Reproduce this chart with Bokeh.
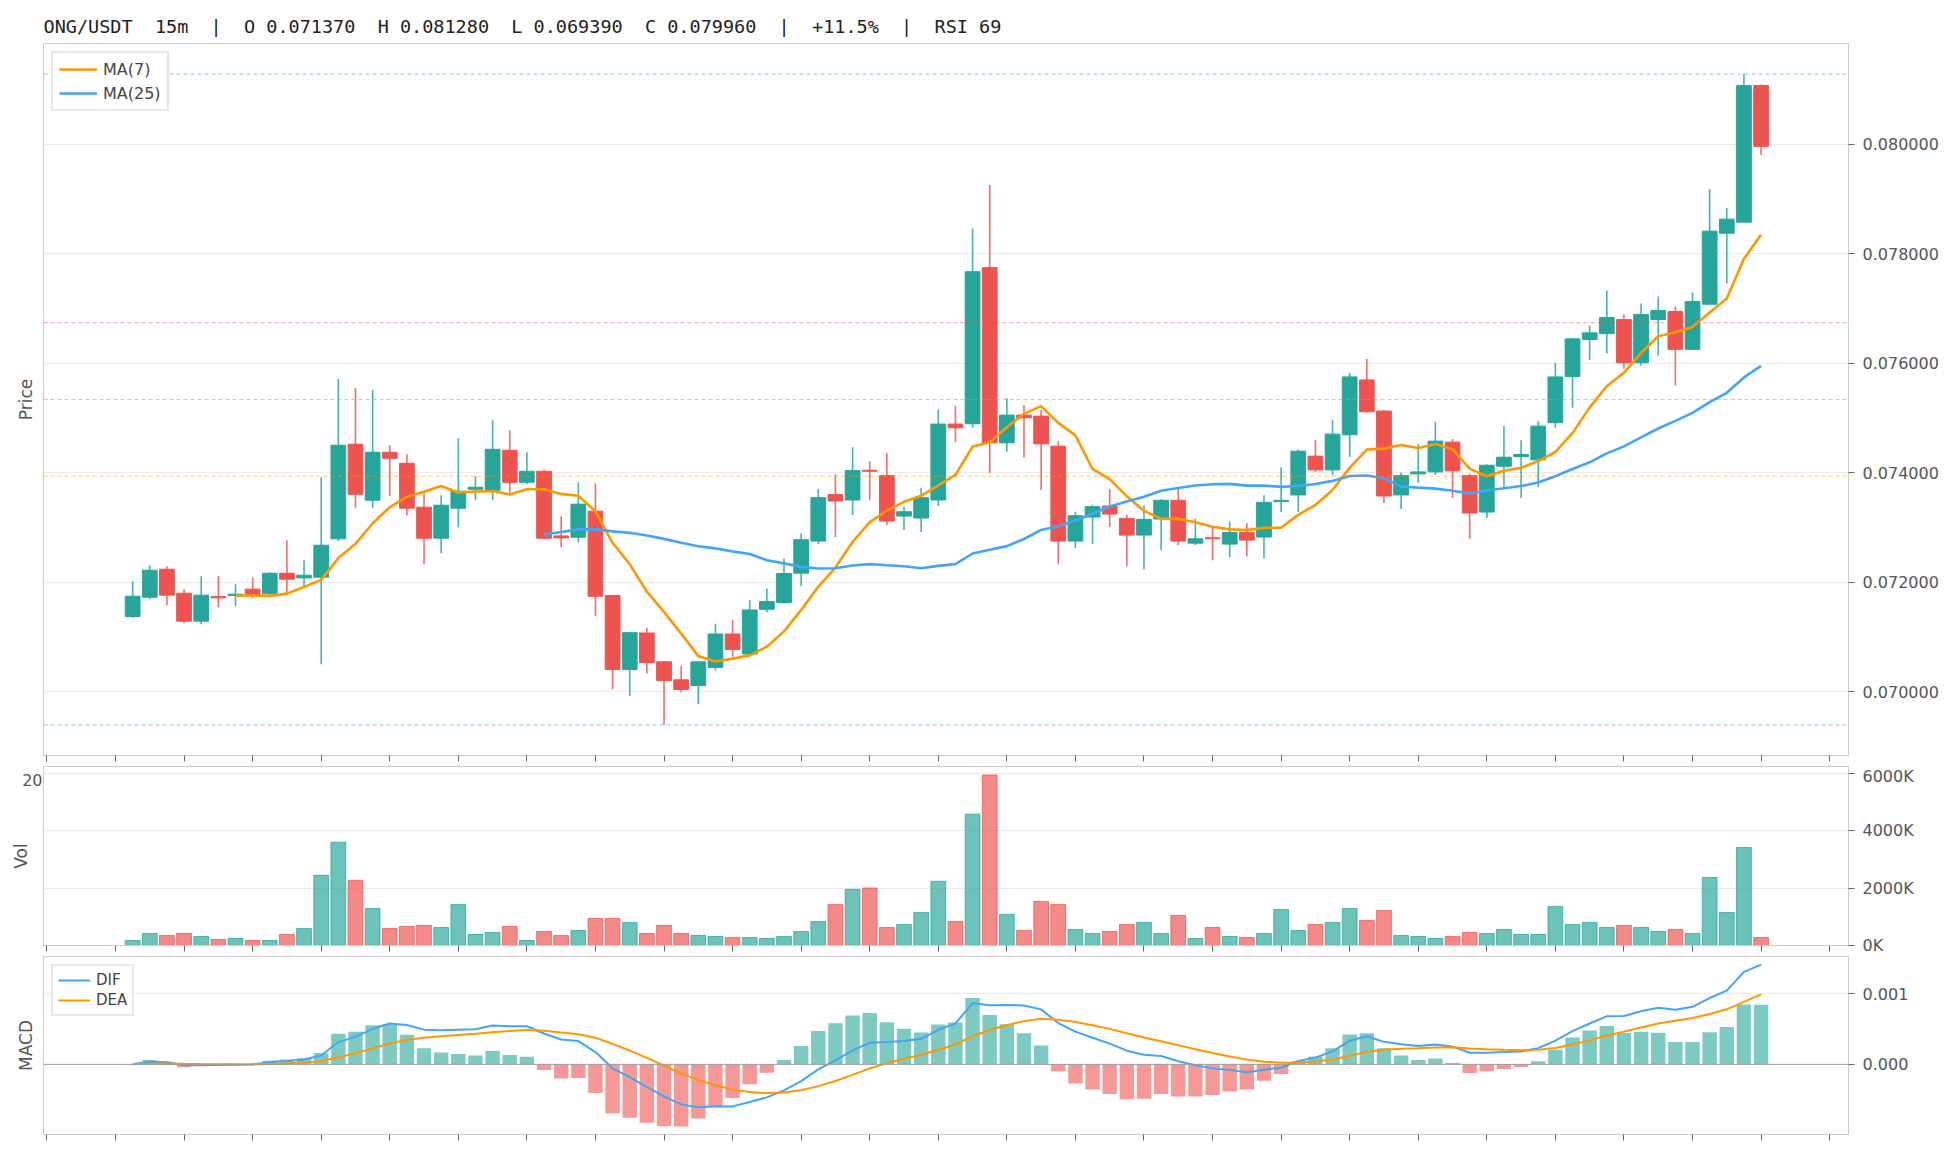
import numpy as np
import pandas as pd
from bokeh.plotting import figure
from bokeh.models import (ColumnDataSource, LinearAxis, FixedTicker,
                          PrintfTickFormatter, Span, Range1d)
from bokeh.layouts import column
from bokeh.embed import file_html
from bokeh.resources import INLINE

# ---------------- data ----------------
symbol = "ONG/USDT"
interval = "15m"
change_text = "+11.5%"
rsi_value = 69

opens = [0.07137, 0.071723, 0.072234, 0.071796, 0.071285, 0.071735, 0.071753, 0.071869, 0.071784, 0.072161,
         0.072076, 0.072088, 0.072789, 0.074517, 0.073495, 0.074371, 0.07417, 0.073367, 0.072801, 0.073349,
         0.073696, 0.073677, 0.074408, 0.073823, 0.074024, 0.072843, 0.072819, 0.073294, 0.071753, 0.070403,
         0.071069, 0.070543, 0.070214, 0.07011, 0.07044, 0.071051, 0.070684, 0.071502, 0.071624, 0.072162,
         0.072748, 0.073597, 0.073499, 0.074043, 0.073945, 0.073206, 0.073169, 0.073499, 0.074886, 0.074892,
         0.077744, 0.074544, 0.07505, 0.075032, 0.074482, 0.072748, 0.073188, 0.073389, 0.073163, 0.072858,
         0.073151, 0.073493, 0.072711, 0.072809, 0.072693, 0.072907, 0.072821, 0.073469, 0.073591, 0.074299,
         0.074049, 0.07469, 0.075692, 0.075124, 0.073591, 0.073976, 0.074012, 0.074556, 0.073945, 0.073279,
         0.074116, 0.074293, 0.074232, 0.07491, 0.075753, 0.076431, 0.076538, 0.076795, 0.076006, 0.076795,
         0.076942, 0.076251, 0.077076, 0.078373, 0.078575, 0.08107]
highs = [0.072015, 0.072308, 0.072289, 0.071869, 0.072107, 0.072107, 0.071961, 0.072089, 0.07218, 0.072764,
         0.072399, 0.073915, 0.07571, 0.075545, 0.075508, 0.074499, 0.074335, 0.073623, 0.073586, 0.074627,
         0.073933, 0.074956, 0.074773, 0.074371, 0.074061, 0.073203, 0.073823, 0.073805, 0.071765, 0.071093,
         0.071166, 0.070556, 0.07047, 0.070543, 0.07124, 0.071313, 0.071673, 0.071881, 0.072424, 0.072889,
         0.073701, 0.073969, 0.074464, 0.074208, 0.074354, 0.073377, 0.073725, 0.075154, 0.075215, 0.078458,
         0.079256, 0.075356, 0.075234, 0.075142, 0.074574, 0.073285, 0.073414, 0.073701, 0.07323, 0.073402,
         0.073511, 0.073719, 0.073163, 0.072986, 0.073108, 0.073072, 0.073585, 0.074098, 0.074421, 0.074592,
         0.074959, 0.07582, 0.076076, 0.075142, 0.074, 0.074519, 0.074922, 0.074611, 0.073982, 0.074153,
         0.074849, 0.074592, 0.07494, 0.076003, 0.076461, 0.076681, 0.077327, 0.076887, 0.077089, 0.077217,
         0.077034, 0.07729, 0.07918, 0.078832, 0.08128, 0.081088]
lows = [0.07135, 0.071687, 0.071577, 0.071248, 0.07123, 0.07154, 0.071559, 0.071705, 0.07176, 0.071796,
        0.071924, 0.0705, 0.072746, 0.073349, 0.073349, 0.073568, 0.073221, 0.072326, 0.072527, 0.073002,
        0.073495, 0.073495, 0.073623, 0.073787, 0.072783, 0.072636, 0.072728, 0.071376, 0.070037, 0.069914,
        0.07033, 0.06939, 0.069982, 0.069768, 0.070385, 0.070635, 0.070666, 0.071447, 0.071606, 0.071924,
        0.072693, 0.072821, 0.073224, 0.073499, 0.073041, 0.07295, 0.072913, 0.073389, 0.074562, 0.074818,
        0.073994, 0.074379, 0.074269, 0.073682, 0.072327, 0.07262, 0.072693, 0.073005, 0.07229, 0.072235,
        0.072583, 0.072675, 0.072675, 0.0724, 0.072455, 0.072473, 0.072437, 0.073279, 0.073279, 0.074012,
        0.073957, 0.074287, 0.075093, 0.073444, 0.073334, 0.073811, 0.073957, 0.073536, 0.072785, 0.073169,
        0.073737, 0.073536, 0.073737, 0.074818, 0.075185, 0.07606, 0.076177, 0.075896, 0.075951, 0.076141,
        0.07559, 0.076251, 0.077076, 0.077456, 0.078575, 0.079804]
closes = [0.071741, 0.072216, 0.07176, 0.071285, 0.07176, 0.071711, 0.071778, 0.071772, 0.072161, 0.072052,
          0.072125, 0.072673, 0.074499, 0.073604, 0.074371, 0.074262, 0.073349, 0.072801, 0.073404, 0.073659,
          0.073732, 0.074426, 0.073823, 0.074024, 0.072801, 0.072807, 0.073422, 0.071741, 0.070403, 0.071075,
          0.070531, 0.070201, 0.070037, 0.070543, 0.071051, 0.070769, 0.07149, 0.071643, 0.072156, 0.072773,
          0.073542, 0.073481, 0.074037, 0.074024, 0.073114, 0.073285, 0.073542, 0.074886, 0.074818, 0.07767,
          0.074544, 0.07505, 0.075002, 0.074525, 0.072748, 0.073212, 0.073377, 0.073243, 0.072858, 0.073145,
          0.073493, 0.072748, 0.072791, 0.072791, 0.072907, 0.072766, 0.073456, 0.073493, 0.074391, 0.074049,
          0.074702, 0.075747, 0.075111, 0.073572, 0.073945, 0.074012, 0.074574, 0.074031, 0.073261, 0.074134,
          0.074281, 0.07433, 0.074849, 0.075747, 0.076443, 0.076553, 0.076832, 0.076006, 0.076887, 0.07696,
          0.076251, 0.077125, 0.07841, 0.07863, 0.08107, 0.07996]
volumes_k = [174, 419, 349, 419, 314, 209, 244, 174, 174, 384,
             593, 2442, 3594, 2268, 1291, 593, 663, 698, 628, 1430,
             384, 454, 663, 174, 488, 349, 523, 942, 942, 802,
             419, 698, 419, 349, 314, 279, 279, 244, 314, 488,
             837, 1430, 1954, 2000, 628, 733, 1151, 2233, 837, 4570,
             5931, 1082, 523, 1535, 1430, 558, 419, 488, 733, 802,
             419, 1047, 244, 628, 314, 279, 419, 1256, 523, 733,
             802, 1291, 872, 1221, 349, 314, 244, 314, 454, 419,
             558, 384, 384, 1361, 733, 802, 628, 698, 628, 488,
             560, 420, 2365, 1150, 3410, 280]
fib_ratios = [0.0, 0.382, 0.5, 0.618, 1.0]
fib_colors = ["#26a69a", "#ef5350", "#9e9e9e", "#ff9800", "#26a69a"]
price_ticks = [0.070, 0.072, 0.074, 0.076, 0.078, 0.080]
vol_ticks_k = [0, 2000, 4000, 6000]
macd_ticks = [0.0, 0.001]
stray_label = "20"

# ---------------- derived series ----------------
UP, DOWN = "#26a69a", "#ef5350"
n = len(closes)
idx = np.arange(n)
o = np.array(opens); h = np.array(highs); l = np.array(lows); c = np.array(closes)
up = c >= o
colors = [UP if u else DOWN for u in up]

cs = pd.Series(c)
ma7 = cs.rolling(7).mean().to_numpy()
ma25 = cs.rolling(25).mean().to_numpy()
ema12 = cs.ewm(span=12, adjust=False).mean()
ema26 = cs.ewm(span=26, adjust=False).mean()
dif = (ema12 - ema26)
dea = dif.ewm(span=9, adjust=False).mean()
hist = 2 * (dif - dea)
dif = dif.to_numpy(); dea = dea.to_numpy(); hist = hist.to_numpy()

src = ColumnDataSource(dict(x=idx, open=o, high=h, low=l, close=c,
                            top=np.maximum(o, c), bottom=np.minimum(o, c),
                            color=colors, vol=np.array(volumes_k, dtype=float)))

hi_p, lo_p = h.max(), l.min()
span_p = hi_p - lo_p

SP = "\u00a0\u00a0"
title_text = (f"{symbol}{SP}{interval}{SP}|{SP}O {opens[0]:.6f}{SP}H {hi_p:.6f}{SP}L {lo_p:.6f}{SP}"
              f"C {closes[-1]:.6f}{SP}|{SP}{change_text}{SP}|{SP}RSI {rsi_value}")

FONT = "DejaVu Sans"
TXT = "#555555"
FRAME = "#cccccc"
FW = 1805
LB = 43
xr = Range1d(-5.2, 100.1)
xticks = list(range(-5, 101, 4))


def style(p, ylabel, right_axis, label_standoff=8, left_ticks=None, left_overrides=None):
    p.background_fill_color = "white"
    p.border_fill_color = "white"
    p.outline_line_color = FRAME
    p.outline_line_width = 1
    p.xgrid.visible = False
    p.ygrid.grid_line_color = "#ebebeb"
    p.ygrid.grid_line_width = 1
    ax = p.xaxis[0]
    ax.ticker = FixedTicker(ticks=[], minor_ticks=xticks)
    ax.major_tick_line_color = None
    ax.minor_tick_out = 6
    ax.minor_tick_in = 0
    ax.minor_tick_line_color = "#666666"
    ax.minor_tick_line_width = 1
    ax.axis_line_color = FRAME
    ra = right_axis
    ra.major_label_text_font = FONT
    ra.major_label_text_font_size = "16px"
    ra.major_label_text_color = TXT
    ra.major_tick_out = 6
    ra.major_tick_in = 0
    ra.major_tick_line_color = "#666666"
    ra.minor_tick_line_color = None
    ra.axis_line_color = FRAME
    ra.major_label_standoff = 8
    la = LinearAxis(axis_label=ylabel, ticker=FixedTicker(ticks=left_ticks or []),
                    axis_line_color=None, major_tick_line_color=None,
                    minor_tick_line_color=None, major_tick_out=0, major_tick_in=0,
                    major_label_standoff=1,
                    major_label_text_font=FONT, major_label_text_font_size="16px",
                    major_label_text_color=TXT,
                    axis_label_text_font=FONT, axis_label_text_font_size="17px",
                    axis_label_text_font_style="normal", axis_label_text_color=TXT,
                    axis_label_standoff=label_standoff)
    if left_overrides:
        la.major_label_overrides = left_overrides
    p.add_layout(la, "left")


def style_legend(lg, fs, gw, gh, spacing, padding):
    lg.location = "top_left"
    lg.margin = 8
    lg.padding = padding
    lg.spacing = spacing
    lg.glyph_width = gw
    lg.glyph_height = gh
    lg.label_height = gh
    lg.label_standoff = 6
    lg.label_text_font = FONT
    lg.label_text_font_size = fs
    lg.label_text_color = "#444444"
    lg.border_line_color = "#d0d0d0"
    lg.border_line_width = 2
    lg.background_fill_alpha = 1.0


# ---------------- price panel ----------------
p = figure(frame_width=FW, frame_height=712, x_range=xr,
           y_range=Range1d(lo_p - 0.047 * span_p, hi_p + 0.047 * span_p),
           y_axis_location="right", toolbar_location=None, output_backend="svg",
           min_border_left=LB, min_border_top=43, min_border_bottom=11, min_border_right=10,
           title=title_text)
p.title.text_font = "DejaVu Sans Mono"
p.title.text_font_size = "18.5px"
p.title.text_font_style = "normal"
p.title.text_color = "#222222"
p.title.standoff = 14
ry = p.yaxis[0]
ry.ticker = FixedTicker(ticks=price_ticks)
ry.formatter = PrintfTickFormatter(format="%.6f")
p.ygrid.ticker = FixedTicker(ticks=price_ticks)
style(p, "Price", ry)

for r, col in zip(fib_ratios, fib_colors):
    lvl = hi_p - r * span_p
    p.add_layout(Span(location=lvl, dimension="width", line_color=col, line_alpha=0.55,
                      line_dash="4 3", line_width=1))

p.segment(x0="x", y0="low", x1="x", y1="high", line_color="color", line_alpha=0.85,
          line_width=1.6, source=src)
p.vbar(x="x", width=0.86, top="top", bottom="bottom", fill_color="color",
       line_color="color", line_width=1, source=src)
p.line(idx, ma7, line_color="#ff9800", line_width=2.6, legend_label="MA(7)")
p.line(idx, ma25, line_color="#42a5f5", line_width=2.6, legend_label="MA(25)")
style_legend(p.legend, "16px", 38, 20, 4, 6)

# ---------------- volume panel ----------------
vmax = max(volumes_k)
vtop = vmax * 1.05
stray_y = round(vtop * 0.927, 1)
v = figure(frame_width=FW, frame_height=179, x_range=xr, y_range=Range1d(0, vtop),
           y_axis_location="right", toolbar_location=None, output_backend="svg",
           min_border_left=LB, min_border_top=0, min_border_bottom=11, min_border_right=10)
rv = v.yaxis[0]
rv.ticker = FixedTicker(ticks=vol_ticks_k)
rv.formatter = PrintfTickFormatter(format="%dK")
v.ygrid.ticker = FixedTicker(ticks=vol_ticks_k)
style(v, "Vol", rv, label_standoff=-12, left_ticks=[stray_y],
      left_overrides={stray_y: stray_label})
v.vbar(x="x", width=0.86, top="vol", bottom=0, fill_color="color", fill_alpha=0.68,
       line_color="color", line_alpha=0.75, line_width=1, source=src)

# ---------------- MACD panel ----------------
mvals = np.concatenate([dif, dea, hist])
mmin, mmax = mvals.min(), mvals.max()
mpad = 0.05 * (mmax - mmin)
m = figure(frame_width=FW, frame_height=178, x_range=xr, y_range=Range1d(mmin - mpad, mmax + mpad),
           y_axis_location="right", toolbar_location=None, output_backend="svg",
           min_border_left=LB, min_border_top=0, min_border_bottom=11, min_border_right=10)
rm = m.yaxis[0]
rm.ticker = FixedTicker(ticks=macd_ticks)
rm.formatter = PrintfTickFormatter(format="%.3f")
m.ygrid.ticker = FixedTicker(ticks=macd_ticks)
style(m, "MACD", rm)
hsrc = ColumnDataSource(dict(x=idx, h=hist, color=[UP if val >= 0 else DOWN for val in hist]))
m.vbar(x="x", width=0.84, top="h", bottom=0, fill_color="color", fill_alpha=0.6,
       line_color=None, source=hsrc)
m.add_layout(Span(location=0, dimension="width", line_color="#9e9e9e", line_width=1))
m.line(idx, dif, line_color="#42a5f5", line_width=2, legend_label="DIF")
m.line(idx, dea, line_color="#ff9800", line_width=2, legend_label="DEA")
style_legend(m.legend, "15px", 32, 18, 2, 5)

layout = column(p, v, m, spacing=0)
open("out.html", "w").write(file_html(layout, INLINE))
